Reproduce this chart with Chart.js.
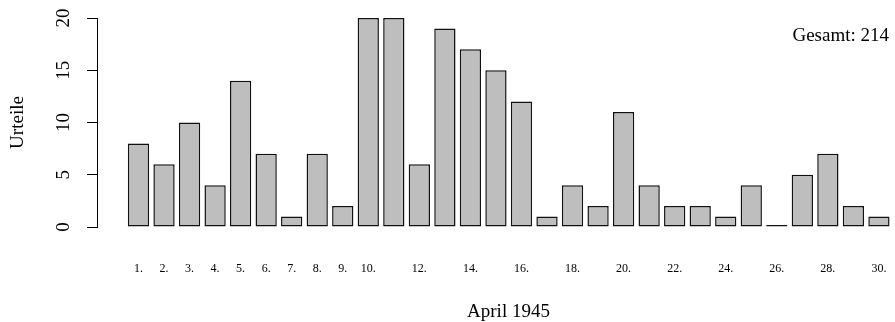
<!DOCTYPE html>
<html>
<head>
<meta charset="utf-8">
<script src="https://cdn.jsdelivr.net/npm/chart.js@4.4.0/dist/chart.umd.min.js"></script>
<style>
  body { margin: 0; background: #fff; overflow: hidden; }
  #wrap { width: 895px; height: 322px; overflow: hidden; }
</style>
</head>
<body>
<div id="wrap"><canvas id="chart" width="920" height="322"></canvas></div>
<script>
// Urteile pro Tag, April 1945
const days = [1, 2, 3, 4, 5, 6, 7, 8, 9, 10, 11, 12, 13, 14, 15,
              16, 17, 18, 19, 20, 21, 22, 23, 24, 25, 26, 27, 28, 29, 30];
const counts = [8, 6, 10, 4, 14, 7, 1, 7, 2, 20, 20, 6, 19, 17, 15,
                12, 1, 4, 2, 11, 4, 2, 2, 1, 4, 0, 5, 7, 2, 1];
const shownDays = [1, 2, 3, 4, 5, 6, 7, 8, 9, 10, 12, 14, 16, 18, 20, 22, 24, 26, 28, 30];
const yTicks = [0, 5, 10, 15, 20];

const total = counts.reduce((a, b) => a + b, 0);
const FONT = '"Liberation Serif", "Times New Roman", serif';

// barplot style positions: width 1, space 0.2
function barPos(day) {
    return 1.2 * day - 0.5;
}

const gesamtLabel = {
    id: 'gesamtLabel',
    afterDraw(chart) {
        const ctx = chart.ctx;
        ctx.save();
        ctx.font = '19px ' + FONT;
        ctx.fillStyle = '#000';
        ctx.textAlign = 'right';
        ctx.textBaseline = 'alphabetic';
        ctx.fillText('Gesamt: ' + total, chart.chartArea.right - 31, chart.chartArea.top + 23);
        ctx.restore();
    }
};

const ctx = document.getElementById('chart').getContext('2d');
new Chart(ctx, {
    type: 'bar',
    data: {
        datasets: [{
            data: days.map((d, i) => ({ x: barPos(d), y: counts[i] })),
            backgroundColor: '#bebebe',
            borderColor: '#111',
            borderWidth: 1.5,
            borderSkipped: false,
            minBarLength: 2,
            categoryPercentage: 1,
            barPercentage: 1 / 1.2
        }]
    },
    options: {
        responsive: false,
        animation: false,
        layout: { padding: { top: 18, left: 0, right: 0, bottom: 0 } },
        plugins: {
            legend: { display: false },
            tooltip: { enabled: false }
        },
        scales: {
            x: {
                type: 'linear',
                offset: false,
                min: -1.25,
                max: 37.43,
                grid: { display: false },
                border: { display: false },
                afterBuildTicks: scale => {
                    scale.ticks = shownDays.map(d => ({ value: barPos(d) }));
                },
                afterFit: scale => {
                    scale.height = 95;
                    scale.paddingLeft = 0;
                    scale.paddingRight = 0;
                },
                ticks: {
                    autoSkip: false,
                    maxRotation: 0,
                    padding: 27,
                    color: '#000',
                    font: { family: FONT, size: 12 },
                    callback: (value, index) => shownDays[index] + '.'
                },
                title: {
                    display: true,
                    text: 'April 1945',
                    color: '#000',
                    font: { family: FONT, size: 19, lineHeight: 1 },
                    padding: { top: 0, bottom: 0 }
                }
            },
            y: {
                min: 0,
                max: 20,
                afterBuildTicks: scale => {
                    scale.ticks = yTicks.map(v => ({ value: v }));
                },
                afterFit: scale => {
                    scale.width = 97;
                    scale.paddingTop = 0;
                    scale.paddingBottom = 0;
                },
                grid: {
                    drawOnChartArea: false,
                    drawTicks: true,
                    tickLength: 10,
                    color: '#000'
                },
                border: { display: true, color: '#000', width: 1 },
                ticks: {
                    minRotation: 90,
                    maxRotation: 90,
                    crossAlign: 'center',
                    padding: 13,
                    color: '#000',
                    font: { family: FONT, size: 19 }
                },
                title: {
                    display: true,
                    text: 'Urteile',
                    color: '#000',
                    font: { family: FONT, size: 19, lineHeight: 1.2 },
                    padding: { top: 7, bottom: 0 }
                }
            }
        }
    },
    plugins: [gesamtLabel]
});
</script>
</body>
</html>
